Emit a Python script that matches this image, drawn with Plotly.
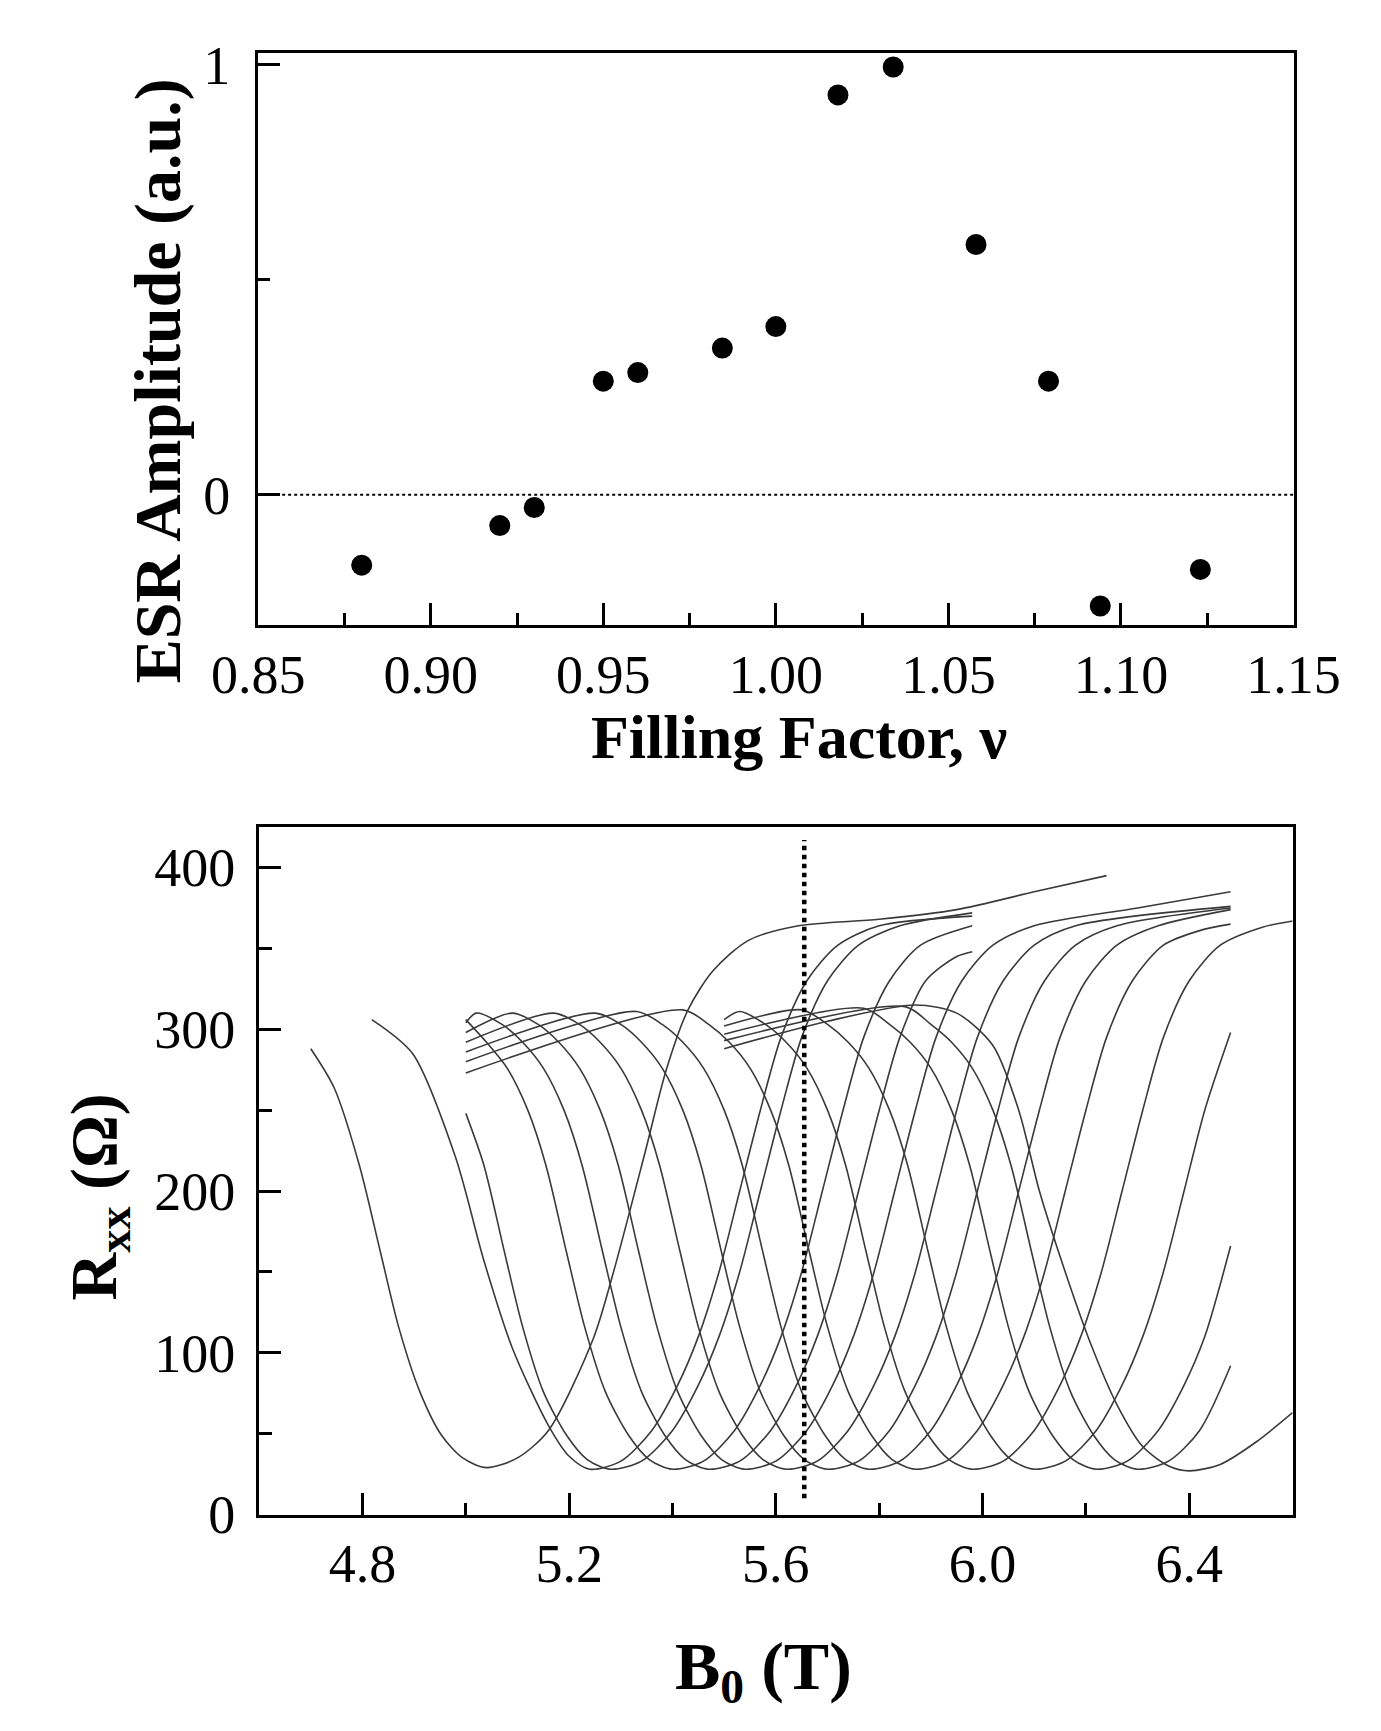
import plotly.graph_objects as go

# ---------------- top panel data ----------------
nu = [0.880, 0.920, 0.930, 0.950, 0.960, 0.9845, 1.000, 1.018, 1.034, 1.058, 1.079, 1.094, 1.123]
esr = [-0.164, -0.072, -0.030, 0.264, 0.284, 0.341, 0.391, 0.930, 0.995, 0.582, 0.264, -0.259, -0.174]

# ---------------- bottom panel data (B in T, Rxx in Ohm) ----------------
B_C1 = [4.70, 4.745, 4.794, 4.835, 4.87, 4.911, 4.953, 4.994, 5.04, 5.10, 5.16, 5.247, 5.285, 5.347, 5.388, 5.43, 5.478, 5.547, 5.644, 5.80, 5.95, 6.10, 6.24]
R_C1 = [288, 264, 216, 162, 116, 76, 49, 35, 29, 35, 52, 109, 149, 224, 275, 312, 336, 355, 364, 368, 374, 385, 395]

B_C2 = [4.818, 4.897, 4.98, 5.035, 5.09, 5.16, 5.20, 5.24, 5.30, 5.36, 5.41, 5.45, 5.49, 5.53, 5.57, 5.61, 5.66, 5.72, 5.80, 5.98]
R_C2 = [306, 285, 221, 157, 103, 55, 36, 28, 33, 52, 80, 110, 150, 200, 250, 295, 330, 352, 364, 370]

B_C3 = [5.0, 5.035, 5.075, 5.11, 5.15, 5.195, 5.235, 5.28, 5.34, 5.40, 5.45, 5.49, 5.53, 5.57, 5.61, 5.65, 5.70, 5.76, 5.84, 5.98]
R_C3 = [248, 216, 162, 116, 76, 49, 34, 28, 33, 52, 80, 110, 150, 200, 250, 295, 330, 352, 364, 372]

B_C4 = [5.0, 5.04, 5.08, 5.12, 5.155, 5.195, 5.23, 5.27, 5.315, 5.355, 5.40, 5.46, 5.52, 5.57, 5.61, 5.65, 5.69, 5.73, 5.77, 5.82, 5.88, 5.98]
R_C4 = [306, 292, 276, 250, 216, 162, 116, 76, 49, 34, 28, 33, 52, 80, 110, 150, 200, 250, 295, 330, 352, 364]

B_C5 = [5.0, 5.02, 5.07, 5.11, 5.15, 5.19, 5.225, 5.265, 5.30, 5.34, 5.385, 5.425, 5.47, 5.53, 5.59, 5.64, 5.68, 5.72, 5.76, 5.80, 5.84, 5.89, 5.95, 5.98]
R_C5 = [304, 310, 303, 292, 276, 250, 216, 162, 116, 76, 49, 34, 28, 33, 52, 80, 110, 150, 200, 250, 295, 330, 345, 348]

B_C6 = [5.0, 5.09, 5.14, 5.18, 5.22, 5.26, 5.295, 5.335, 5.37, 5.41, 5.455, 5.495, 5.54, 5.60, 5.66, 5.71, 5.75, 5.79, 5.83, 5.87, 5.91, 5.96, 6.02, 6.10, 6.30, 6.48]
R_C6 = [298, 310, 303, 292, 276, 250, 216, 162, 116, 76, 49, 34, 28, 33, 52, 80, 110, 150, 200, 250, 295, 330, 352, 364, 375, 385]

B_C7 = [5.0, 5.17, 5.22, 5.26, 5.30, 5.34, 5.375, 5.415, 5.45, 5.49, 5.535, 5.575, 5.62, 5.68, 5.74, 5.79, 5.83, 5.87, 5.91, 5.95, 5.99, 6.04, 6.10, 6.18, 6.48]
R_C7 = [292, 310, 303, 292, 276, 250, 216, 162, 116, 76, 49, 34, 28, 33, 52, 80, 110, 150, 200, 250, 295, 330, 352, 364, 376]

B_C8 = [5.0, 5.25, 5.30, 5.34, 5.38, 5.42, 5.455, 5.495, 5.53, 5.57, 5.615, 5.655, 5.70, 5.76, 5.82, 5.87, 5.91, 5.95, 5.99, 6.03, 6.07, 6.12, 6.18, 6.26, 6.48]
R_C8 = [286, 310, 303, 292, 276, 250, 216, 162, 116, 76, 49, 34, 28, 33, 52, 80, 110, 150, 200, 250, 295, 330, 352, 364, 375]

B_C9 = [5.0, 5.33, 5.38, 5.42, 5.46, 5.50, 5.535, 5.575, 5.61, 5.65, 5.695, 5.735, 5.78, 5.84, 5.90, 5.95, 5.99, 6.03, 6.07, 6.11, 6.15, 6.20, 6.26, 6.34, 6.48]
R_C9 = [280, 311, 303, 292, 276, 250, 216, 162, 116, 76, 49, 34, 28, 33, 52, 80, 110, 150, 200, 250, 295, 330, 352, 364, 374]

B_C10 = [5.0, 5.42, 5.47, 5.51, 5.55, 5.59, 5.625, 5.665, 5.70, 5.74, 5.785, 5.825, 5.87, 5.93, 5.99, 6.04, 6.08, 6.12, 6.16, 6.20, 6.24, 6.29, 6.35, 6.42, 6.48]
R_C10 = [273, 312, 303, 292, 276, 250, 216, 162, 116, 76, 49, 34, 28, 33, 52, 80, 110, 150, 200, 250, 295, 330, 352, 361, 365]

B_C11 = [5.5, 5.53, 5.58, 5.62, 5.66, 5.70, 5.735, 5.775, 5.81, 5.85, 5.895, 5.935, 5.98, 6.04, 6.10, 6.15, 6.19, 6.23, 6.27, 6.31, 6.35, 6.40, 6.46, 6.54, 6.60]
R_C11 = [306, 311, 303, 292, 276, 250, 216, 162, 116, 76, 49, 34, 28, 33, 52, 80, 110, 150, 200, 250, 295, 330, 352, 363, 367]

B_C12 = [5.5, 5.65, 5.70, 5.74, 5.78, 5.82, 5.855, 5.895, 5.93, 5.97, 6.015, 6.055, 6.10, 6.16, 6.22, 6.27, 6.31, 6.35, 6.39, 6.43, 6.48]
R_C12 = [302, 312, 303, 292, 276, 250, 216, 162, 116, 76, 49, 34, 28, 33, 52, 80, 110, 150, 200, 250, 298]

B_C13 = [5.5, 5.77, 5.82, 5.86, 5.90, 5.94, 5.975, 6.015, 6.05, 6.09, 6.135, 6.175, 6.22, 6.28, 6.34, 6.39, 6.43, 6.48]
R_C13 = [297, 313, 303, 292, 276, 250, 216, 162, 116, 76, 49, 34, 28, 33, 52, 80, 110, 166]

B_C14 = [5.5, 5.85, 5.90, 5.94, 5.98, 6.02, 6.055, 6.095, 6.13, 6.17, 6.215, 6.255, 6.30, 6.36, 6.42, 6.48]
R_C14 = [293, 314, 303, 292, 276, 250, 216, 162, 116, 76, 49, 34, 28, 33, 52, 92]

B_C15 = [5.5, 5.70, 5.87, 5.95, 6.02, 6.07, 6.11, 6.16, 6.21, 6.26, 6.31, 6.36, 6.40, 6.46, 6.53, 6.60]
R_C15 = [288, 305, 315, 310, 290, 250, 200, 150, 105, 68, 42, 30, 27, 31, 45, 63]

curves_B = [B_C1, B_C2, B_C3, B_C4, B_C5, B_C6, B_C7, B_C8, B_C9, B_C10, B_C11, B_C12, B_C13, B_C14, B_C15]
curves_R = [R_C1, R_C2, R_C3, R_C4, R_C5, R_C6, R_C7, R_C8, R_C9, R_C10, R_C11, R_C12, R_C13, R_C14, R_C15]

marker_B = [5.655, 5.655]
marker_R = [10, 417]
zero_nu = [0.85, 1.15]
zero_y = [0, 0]

SERIF = "Liberation Serif"
W, H = 1381, 1731

fig = go.Figure()

# top panel
fig.add_trace(go.Scatter(x=zero_nu, y=zero_y, mode="lines",
                         line=dict(color="black", width=2, dash="dot"),
                         xaxis="x", yaxis="y", showlegend=False))
fig.add_trace(go.Scatter(x=nu, y=esr, mode="markers",
                         marker=dict(color="black", size=21),
                         xaxis="x", yaxis="y", showlegend=False))

# bottom panel
for bx, ry in zip(curves_B, curves_R):
    fig.add_trace(go.Scatter(x=bx, y=ry, mode="lines",
                             line=dict(color="#3a3a3a", width=1.6, shape="spline", smoothing=0.8),
                             xaxis="x2", yaxis="y2", showlegend=False))
fig.add_trace(go.Scatter(x=marker_B, y=marker_R, mode="lines",
                         line=dict(color="black", width=4.5, dash="dot"),
                         xaxis="x2", yaxis="y2", showlegend=False))

tickfont = dict(family=SERIF, size=54, color="black")
common = dict(showline=True, linecolor="black", linewidth=3, mirror=True,
              ticks="inside", tickwidth=3, tickcolor="black", showgrid=False,
              zeroline=False, tickfont=tickfont)

fig.update_layout(
    width=W, height=H, autosize=False,
    margin=dict(l=0, r=0, t=0, b=0),
    paper_bgcolor="white", plot_bgcolor="white",
    xaxis=dict(domain=[218 / W, 1329 / W], anchor="y", range=[0.85, 1.15],
               tick0=0.85, dtick=0.05, tickformat=".2f", ticklen=22,
               minor=dict(ticks="inside", dtick=0.025, ticklen=12, tickwidth=3, tickcolor="black"),
               ticklabelstandoff=0, **common),
    yaxis=dict(domain=[1 - 617 / H, 1 - 29 / H], anchor="x", range=[-0.303, 1.027],
               tick0=0, dtick=1, ticklen=22,
               minor=dict(ticks="inside", dtick=0.5, ticklen=12, tickwidth=3, tickcolor="black"),
               ticklabelstandoff=14, **common),
    xaxis2=dict(domain=[219 / W, 1328 / W], anchor="y2", range=[4.6, 6.6],
                tick0=4.8, dtick=0.4, tickformat=".1f", ticklen=22,
                minor=dict(ticks="inside", dtick=0.2, ticklen=12, tickwidth=3, tickcolor="black"),
                ticklabelstandoff=0, **common),
    yaxis2=dict(domain=[1 - 1532 / H, 1 - 825 / H], anchor="x2", range=[0, 425],
                tick0=0, dtick=100, ticklen=22,
                minor=dict(ticks="inside", dtick=50, ticklen=13, tickwidth=3, tickcolor="black"),
                ticklabelstandoff=10, **common),
)

titlefont = dict(family=SERIF, size=66, color="black", weight="bold")
fig.add_annotation(text="ESR Amplitude (a.u.)", x=110 / W, y=1 - 366 / H,
                   xref="paper", yref="paper", showarrow=False, textangle=-90,
                   font=titlefont, xanchor="center", yanchor="middle")
fig.add_annotation(text="Filling Factor, ν", x=798 / W, y=1 - 732 / H,
                   xref="paper", yref="paper", showarrow=False,
                   font=dict(family=SERIF, size=62, color="black", weight="bold"),
                   xanchor="center", yanchor="middle")
fig.add_annotation(text="R<sub>xx</sub> (Ω)", x=47 / W, y=1 - 1205 / H,
                   xref="paper", yref="paper", showarrow=False, textangle=-90,
                   font=titlefont, xanchor="center", yanchor="middle")
fig.add_annotation(text="B<sub>0</sub> (T)", x=760 / W, y=1 - 1692 / H,
                   xref="paper", yref="paper", showarrow=False,
                   font=dict(family=SERIF, size=68, color="black", weight="bold"),
                   xanchor="center", yanchor="middle")

fig.write_html("out.html")
